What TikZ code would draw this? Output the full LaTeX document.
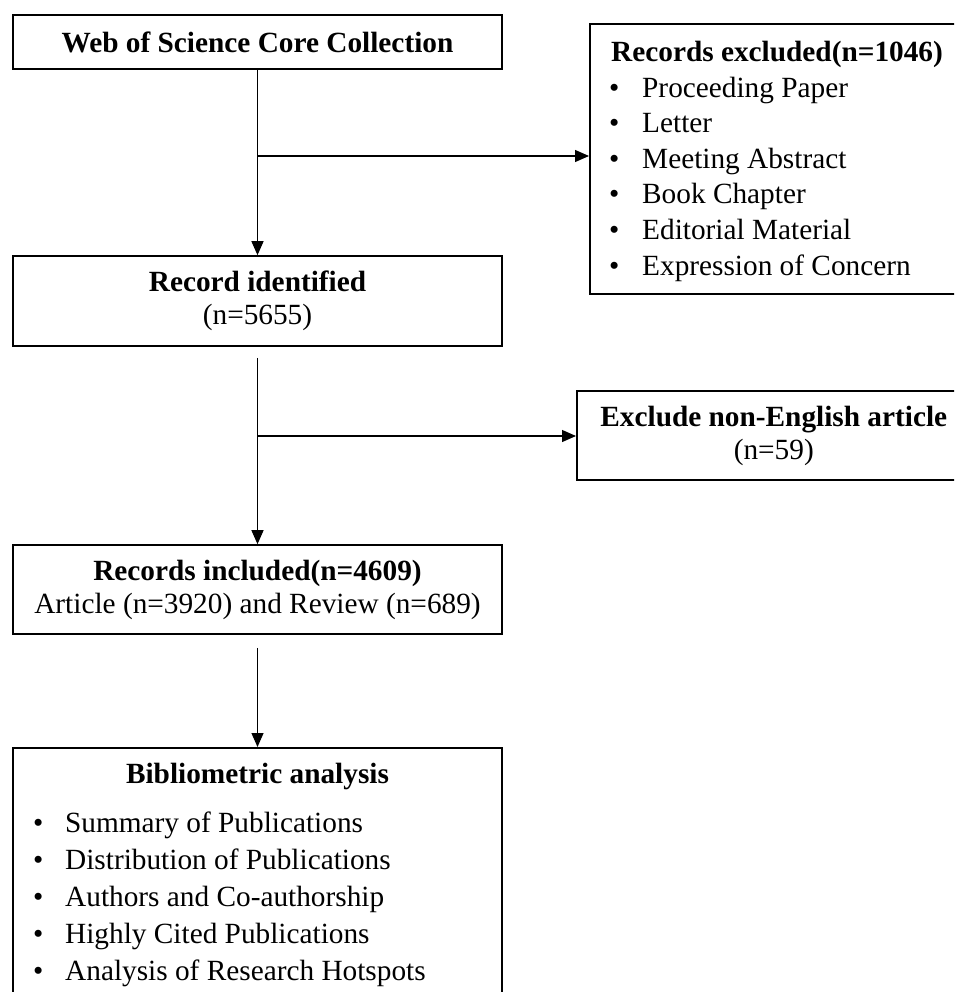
\documentclass[tikz,border=0pt]{standalone}
\usepackage{fontspec}
\setmainfont{Liberation Serif}
\usetikzlibrary{arrows.meta}

\tikzset{
  stagebox/.style={draw, line width=1.6pt, inner sep=0pt, align=center},
  flowarrow/.style={line width=1.2pt, -{Triangle[length=14pt,width=12pt]}},
  listitem/.style={anchor=base west, inner sep=0pt},
}
\newcommand{\bul}[1]{\makebox[#1][l]{\textbullet}}

\begin{document}
\begin{tikzpicture}[x=1pt,y=-1pt,font=\fontsize{29.3pt}{33pt}\selectfont]
\useasboundingbox (0,0) rectangle (954,992);
\clip (0,0) rectangle (954,992);

% main column
\node[stagebox, minimum width=489pt, minimum height=54pt] (wos) at (257.5,42) {\textbf{Web of Science Core Collection}};
\node[stagebox, minimum width=489pt, minimum height=90pt] (ident) at (257.5,301) {\textbf{Record identified}\\(n=5655)};
\node[stagebox, minimum width=489pt, minimum height=89pt] (incl) at (257.5,589.5) {\textbf{Records included(n=4609)}\\Article (n=3920) and Review (n=689)};
\node[stagebox, anchor=north, minimum width=489pt, minimum height=300pt] (bib) at (257.5,747) {};
\node[anchor=base, inner sep=0pt] (bibtitle) at (257.5,783) {\textbf{Bibliometric analysis}};
\foreach \i/\t in {1/Summary of Publications, 2/Distribution of Publications, 3/Authors and Co-authorship, 4/Highly Cited Publications, 5/Analysis of Research Hotspots}
  \node[listitem] (bib\i) at (33,795+37*\i) {\bul{32pt}\t};

% excluded records
\node[stagebox, anchor=north west, minimum width=420pt, minimum height=270pt] (excl) at (589,23) {};
\node[listitem] (excltitle) at (611,62) {\textbf{Records excluded(n=1046)}};
\foreach \i/\t in {1/Proceeding Paper, 2/Letter, 3/Meeting Abstract, 4/Book Chapter, 5/Editorial Material, 6/Expression of Concern}
  \node[listitem] (excl\i) at (609,62+35.5*\i) {\bul{33pt}\t};

\node[stagebox, anchor=west, minimum width=394pt, minimum height=89pt] (nonen) at (576,435.5) {\textbf{Exclude non-English article}\\(n=59)};

% connectors
\coordinate (split1) at (257.5,156);
\coordinate (split2) at (257.5,436);
\draw[flowarrow] (wos.south) -- (ident.north);
\draw[flowarrow] (split1) -- (split1 -| excl.west);
\draw[flowarrow] ([yshift=-11pt]ident.south) -- (incl.north);
\draw[flowarrow] (split2) -- (split2 -| nonen.west);
\draw[flowarrow] ([yshift=-13pt]incl.south) -- (bib.north);
\end{tikzpicture}
\end{document}
